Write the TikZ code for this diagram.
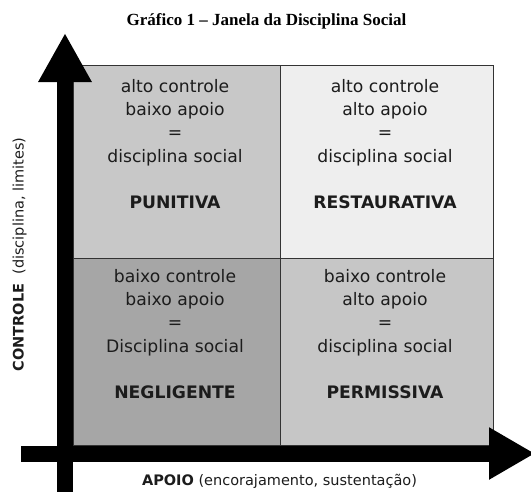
\documentclass[tikz,border=0pt]{standalone}
\usepackage{fontspec}
\setmainfont{DejaVu Sans}
\newfontfamily\titlefont{Liberation Serif}
\usetikzlibrary{arrows.meta}
\definecolor{cTL}{HTML}{C8C8C8}
\definecolor{cTR}{HTML}{EEEEEE}
\definecolor{cBL}{HTML}{A6A6A6}
\definecolor{cBR}{HTML}{C6C6C6}
\definecolor{txt}{HTML}{1C1C1C}
\tikzset{
  cell/.style={draw=black!80, line width=1pt, rectangle, inner sep=0pt, anchor=center},
  celltext/.style={font=\fontsize{17.2}{23.3}\selectfont, align=center, inner sep=0pt, text=txt, anchor=north},
  axis/.style={line width=16pt, -{Triangle[length=49pt,width=50pt]}},
  axislabel/.style={font=\fontsize{14.5}{17}\selectfont, inner sep=0pt, text=txt, anchor=base}
}
\begin{document}
\begin{tikzpicture}[x=1pt,y=-1pt]
\useasboundingbox (0,0) rectangle (531,491);
% title
\node[font=\titlefont\bfseries\fontsize{17}{20}\selectfont, anchor=base, inner sep=0pt] (title) at (266.5,25) {Gráfico 1 – Janela da Disciplina Social};
% cells
\node[cell, fill=cTL, minimum width=207pt, minimum height=193pt] (tl) at (176.5,161.5) {};
\node[cell, fill=cTR, minimum width=213pt, minimum height=193pt] (tr) at (386.5,161.5) {};
\node[cell, fill=cBL, minimum width=207pt, minimum height=187pt] (bl) at (176.5,351.5) {};
\node[cell, fill=cBR, minimum width=213pt, minimum height=187pt] (br) at (386.5,351.5) {};
% axes
\coordinate (vs) at (65,495);
\coordinate (ve) at (65,33);
\coordinate (hs) at (21,453.5);
\coordinate (he) at (535,453.5);
\draw[axis] (vs) -- (ve);
\draw[axis, -{Triangle[length=46pt,width=49pt]}] (hs) -- (he);
% cell texts
\node[celltext] (tlt) at (175,79) {alto controle\\baixo apoio\\=\\disciplina social\\[23.3pt]\textbf{PUNITIVA}};
\node[celltext] (trt) at (385,79) {alto controle\\alto apoio\\=\\disciplina social\\[23.3pt]\textbf{RESTAURATIVA}};
\node[celltext] (blt) at (175,269) {baixo controle\\baixo apoio\\=\\Disciplina social\\[23.3pt]\textbf{NEGLIGENTE}};
\node[celltext] (brt) at (385,269) {baixo controle\\alto apoio\\=\\disciplina social\\[23.3pt]\textbf{PERMISSIVA}};
% axis labels
\node[axislabel] (xlab) at (279.5,485.7) {\textbf{APOIO} (encorajamento, sustentação)};
\node[axislabel, rotate=90] (ylab) at (23.5,254.5) {\textbf{CONTROLE}\ \ (disciplina, limites)};
\end{tikzpicture}
\end{document}
